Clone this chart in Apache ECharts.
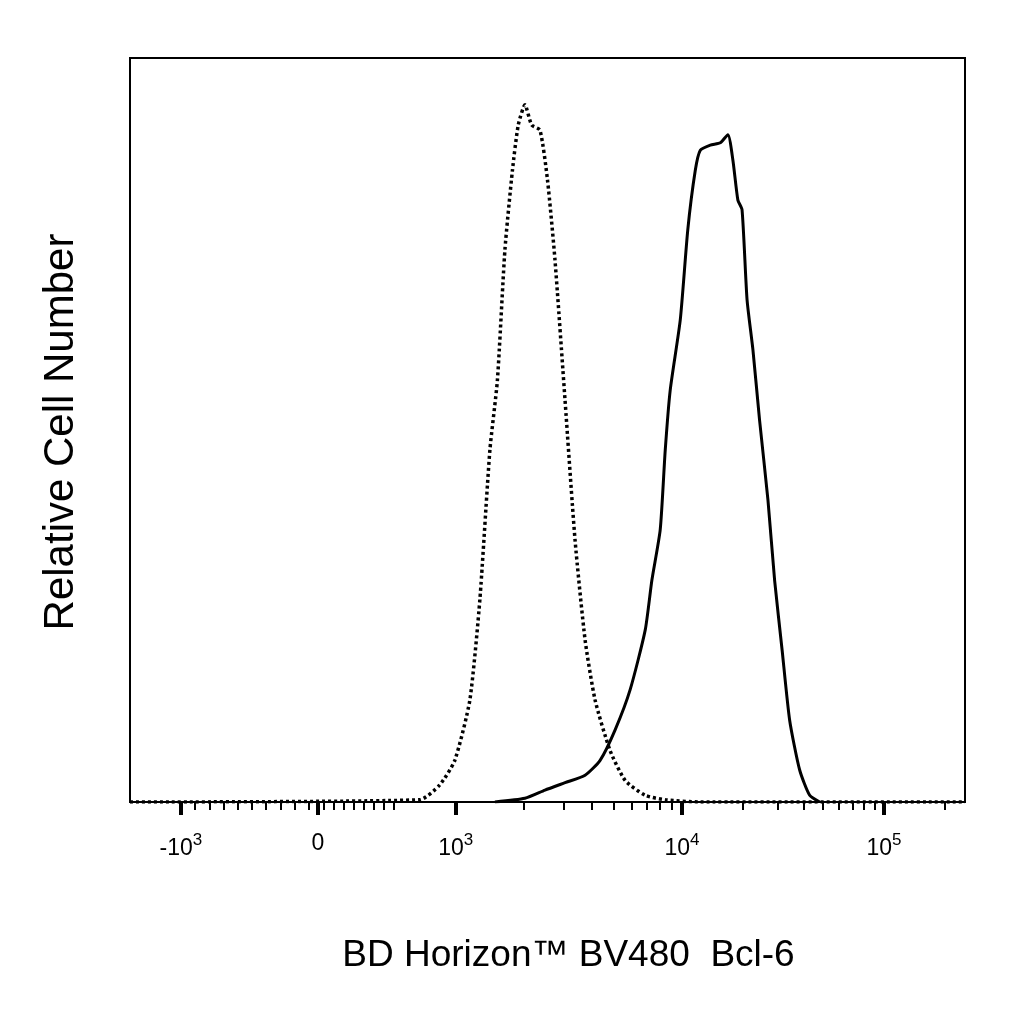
<!DOCTYPE html>
<html><head><meta charset="utf-8">
<script src="https://cdn.jsdelivr.net/npm/echarts@6/dist/echarts.min.js"></script>
<style>html,body{margin:0;background:#fff}#c{width:1024px;height:1024px}</style>
</head><body><div id="c"></div>
<script>
// x in display channel units (0-1000, biexponential display), y in % of max
const dottedX = [0,347,371,389,407,419,431,440,449,458,465,473,481,491,500,509,521,533,545,557,575,593,617,641,683,1000];
const dottedY = [0,0.3,2.3,5.6,13.7,27.2,47.3,56.7,74.2,84.9,91.0,93.7,91.0,90.3,83.6,72.8,54.0,35.2,21.8,13.7,6.9,2.9,0.9,0.3,0,0];
const solidX = [437,473,497,521,545,563,581,599,617,625,635,641,647,659,668,677,683,695,707,716,722,728,733,739,746,754,764,772,781,790,802,814,826];
const solidY = [0,0.5,1.6,2.6,3.6,5.6,9.7,15.1,23.1,29.8,36.6,47.3,55.4,64.8,76.9,84.9,87.6,88.3,88.6,89.7,86.3,80.9,79.6,67.5,60.8,51.3,40.6,29.8,20.4,11.0,4.3,0.9,0];
const majorTicks = [61,225,390,661,903];
const majorLabels = ['-10{s|3}','{z|0}','10{s|3}','10{s|4}','10{s|5}'];
const minorTicks = [78,95,112,129,146,163,180,197,214,232,244,256,268,280,292,304,316,
  472,519,553,579,601,619,635,649, 734,776,807,830,849,865,879,892, 976];
const zip = (a,b)=>a.map((v,i)=>[v,b[i]]);
const ch = echarts.init(document.getElementById('c'));
const baseX = {type:'value',min:0,max:1000,position:'bottom',splitLine:{show:false},axisLine:{show:false}};
ch.setOption({
  animation:false,
  grid:{left:130,right:59,top:58,bottom:222,show:true,borderColor:'#000',borderWidth:2},
  xAxis:[
    Object.assign({},baseX,{axisLine:{show:true,lineStyle:{color:'#000',width:2}},
      axisTick:{show:true,customValues:majorTicks,length:13,lineStyle:{width:4,color:'#000'}},
      axisLabel:{customValues:majorTicks,margin:30,color:'#000',fontSize:23,fontFamily:'Liberation Sans',
        formatter:v=>majorLabels[majorTicks.indexOf(v)],
        rich:{s:{fontSize:17,verticalAlign:'top',padding:[0,0,16,0],color:'#000'},z:{fontSize:23,padding:[0,0,0,0],color:'#000'}}},
      name:'BD Horizon™ BV480  Bcl-6',nameLocation:'middle',nameGap:135,
      nameTextStyle:{fontSize:37,color:'#000',fontFamily:'Liberation Sans',padding:[0,0,0,42]}}),
    Object.assign({},baseX,{axisTick:{show:true,customValues:minorTicks,length:8,lineStyle:{width:2,color:'#000'}},
      axisLabel:{show:false}})
  ],
  yAxis:{type:'value',min:0,max:100,splitLine:{show:false},
    axisLine:{show:true,lineStyle:{color:'#000',width:2}},axisTick:{show:false},axisLabel:{show:false},
    name:'Relative Cell Number',nameLocation:'middle',nameGap:48,
    nameTextStyle:{fontSize:42,color:'#000',fontFamily:'Liberation Sans',padding:[0,0,0,-4]}},
  series:[
    {type:'line',data:zip(dottedX,dottedY),showSymbol:false,smooth:0.2,lineStyle:{color:'#000',width:3.5,type:[3,3]}},
    {type:'line',data:zip(solidX,solidY),showSymbol:false,smooth:0.2,lineStyle:{color:'#000',width:3}}
  ]
});
</script></body></html>
